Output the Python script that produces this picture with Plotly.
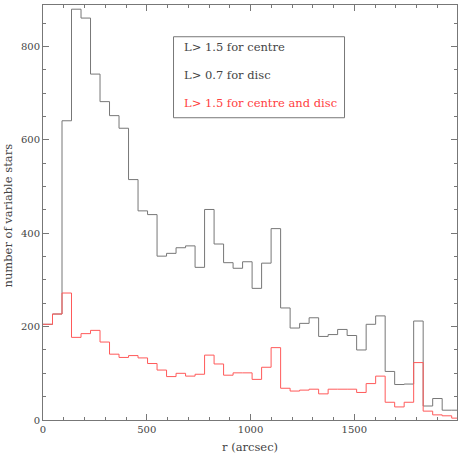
import numpy as np
import plotly.graph_objects as go

# histogram bins (arcsec)
bin_width = 45.8
n_bins = 44

# counts per radial bin
all_counts = [205, 227, 641, 880, 861, 741, 682, 652, 625, 515, 448, 440, 351, 357,
              369, 373, 327, 451, 377, 337, 325, 339, 282, 336, 410, 240, 197, 207,
              219, 179, 183, 194, 181, 150, 205, 223, 104, 76, 77, 212, 30, 46, 21, 21]
both_counts = [205, 227, 272, 177, 185, 192, 167, 141, 134, 138, 133, 121, 107, 93,
               100, 94, 98, 139, 120, 96, 101, 101, 87, 113, 155, 68, 62, 64,
               66, 56, 66, 66, 66, 59, 78, 94, 38, 28, 38, 123, 19, 11, 9, 4]

legend_lines = ["L> 1.5 for centre", "L> 0.7 for disc", "L> 1.5 for centre and disc"]
legend_colors = ["#444444", "#444444", "#ff4040"]

GRAY = "#777777"
RED = "#ff5a5a"
TEXT = "#444444"
FONT = "DejaVu Serif"

edges = np.arange(n_bins + 1) * bin_width


def step_xy(counts):
    # hv step line through bin edges
    return list(edges), list(counts) + [counts[-1]]


fig = go.Figure()
x, y = step_xy(all_counts)
fig.add_trace(go.Scatter(x=x, y=y, mode="lines", line=dict(color=GRAY, width=1, shape="hv"),
                         showlegend=False, hoverinfo="skip"))
x, y = step_xy(both_counts)
fig.add_trace(go.Scatter(x=x, y=y, mode="lines", line=dict(color=RED, width=1, shape="hv"),
                         showlegend=False, hoverinfo="skip"))

# legend box with coloured text
fig.add_shape(type="rect", xref="x", yref="y", x0=629, x1=1453, y0=647.5, y1=821,
              line=dict(color=GRAY, width=1), fillcolor="rgba(0,0,0,0)")
for text, col, yy in zip(legend_lines, legend_colors, [800, 739.5, 678.7]):
    fig.add_annotation(x=668, y=yy, xref="x", yref="y", text=text, showarrow=False,
                       xanchor="left", yanchor="middle",
                       font=dict(family=FONT, size=11.5, color=col))

# axis titles
fig.add_annotation(x=0.5, y=0, xref="paper", yref="paper", text="r (arcsec)",
                   showarrow=False, xanchor="center", yanchor="top", yshift=-18,
                   font=dict(family=FONT, size=11.5, color=TEXT))
fig.add_annotation(x=0, y=0.5, xref="paper", yref="paper", text="number of variable stars",
                   showarrow=False, xanchor="right", yanchor="middle", xshift=-27, yshift=-3,
                   textangle=-90, font=dict(family=FONT, size=11.5, color=TEXT))

axis_common = dict(
    showline=True, linecolor=GRAY, linewidth=1, mirror="allticks",
    ticks="inside", ticklen=6, tickcolor=GRAY, tickwidth=1,
    showgrid=False, zeroline=False, automargin=False,
    tickfont=dict(family=FONT, size=10, color=TEXT),
)

fig.update_layout(
    width=458, height=453,
    margin=dict(l=43, r=1, t=5, b=33),
    paper_bgcolor="white", plot_bgcolor="white",
    xaxis=dict(range=[0, 1995], dtick=500, tick0=0,
               minor=dict(dtick=100, ticklen=3, ticks="inside", tickcolor=GRAY),
               **axis_common),
    yaxis=dict(range=[0, 889], dtick=200, tick0=0,
               minor=dict(dtick=50, ticklen=3, ticks="inside", tickcolor=GRAY),
               **axis_common),
)

fig.write_html("out.html", config={"displayModeBar": False},
               post_script="document.body.style.margin='0';")
